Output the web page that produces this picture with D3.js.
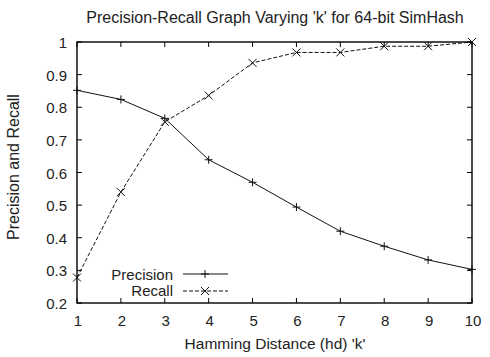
<!DOCTYPE html>
<html><head><meta charset="utf-8">
<script src="https://cdn.jsdelivr.net/npm/d3@7"></script>
<style>body{margin:0;background:#fff}svg{display:block}text{font-family:"Liberation Sans",Arial,sans-serif;fill:#222}</style>
</head><body><svg id="c" width="490" height="357"></svg>
<script>
const categories = [1,2,3,4,5,6,7,8,9,10];
const precision = [0.852,0.824,0.766,0.639,0.570,0.494,0.420,0.374,0.332,0.303];
const recall = [0.278,0.540,0.755,0.836,0.936,0.968,0.968,0.987,0.987,1.0];
const yTicks = [0.2,0.3,0.4,0.5,0.6,0.7,0.8,0.9,1];
const yTickLabels = ["0.2","0.3","0.4","0.5","0.6","0.7","0.8","0.9","1"];

const svg = d3.select("#c");
const L=77,R=472,T=42,B=303;
const x = d3.scaleLinear().domain([1,10]).range([L,R]);
const y = d3.scaleLinear().domain([0.2,1]).range([B,T]);
const g = svg.append("g");
const tl=5;
categories.forEach(c=>{
  g.append("line").attr("x1",x(c)).attr("x2",x(c)).attr("y1",B).attr("y2",B-tl).attr("stroke","#000");
  g.append("line").attr("x1",x(c)).attr("x2",x(c)).attr("y1",T).attr("y2",T+tl).attr("stroke","#000");
  g.append("text").attr("x",x(c)+1).attr("y",B+23).attr("text-anchor","middle").attr("font-size",15).text(c);
});
yTicks.forEach((v,i)=>{
  g.append("line").attr("x1",L).attr("x2",L+tl).attr("y1",y(v)).attr("y2",y(v)).attr("stroke","#000");
  g.append("line").attr("x1",R).attr("x2",R-tl).attr("y1",y(v)).attr("y2",y(v)).attr("stroke","#000");
  g.append("text").attr("x",L-10).attr("y",y(v)+6).attr("text-anchor","end").attr("font-size",15).text(yTickLabels[i]);
});
g.append("rect").attr("x",L).attr("y",T).attr("width",R-L).attr("height",B-T).attr("fill","none").attr("stroke","#000").attr("stroke-width",1.4);

const line = d3.line().x((d,i)=>x(categories[i])).y(d=>y(d));
g.append("path").attr("d",line(precision)).attr("fill","none").attr("stroke","#111").attr("stroke-width",1);
g.append("path").attr("d",line(recall)).attr("fill","none").attr("stroke","#111").attr("stroke-width",1).attr("stroke-dasharray","4,2");
const s=4;
function plus(px,py){g.append("path").attr("d",`M${px-s},${py}H${px+s}M${px},${py-s}V${py+s}`).attr("stroke","#111").attr("stroke-width",1);}
function cross(px,py){g.append("path").attr("d",`M${px-s},${py-s}L${px+s},${py+s}M${px-s},${py+s}L${px+s},${py-s}`).attr("stroke","#111").attr("stroke-width",1);}
precision.forEach((v,i)=>plus(x(categories[i]),y(v)));
recall.forEach((v,i)=>cross(x(categories[i]),y(v)));

g.append("text").attr("x",173).attr("y",280).attr("text-anchor","end").attr("font-size",15).text("Precision");
g.append("line").attr("x1",183).attr("x2",228).attr("y1",274).attr("y2",274).attr("stroke","#111");
plus(205,274);
g.append("text").attr("x",173).attr("y",296).attr("text-anchor","end").attr("font-size",15).text("Recall");
g.append("line").attr("x1",183).attr("x2",228).attr("y1",291).attr("y2",291).attr("stroke","#111").attr("stroke-dasharray","4,2");
cross(205,291);

svg.append("text").attr("x",275).attr("y",23).attr("text-anchor","middle").attr("font-size",16).text("Precision-Recall Graph Varying 'k' for 64-bit SimHash");
svg.append("text").attr("x",275).attr("y",349).attr("text-anchor","middle").attr("font-size",15.5).text("Hamming Distance (hd) 'k'");
svg.append("text").attr("transform","translate(19,167) rotate(-90)").attr("text-anchor","middle").attr("font-size",16).text("Precision and Recall");
</script></body></html>
